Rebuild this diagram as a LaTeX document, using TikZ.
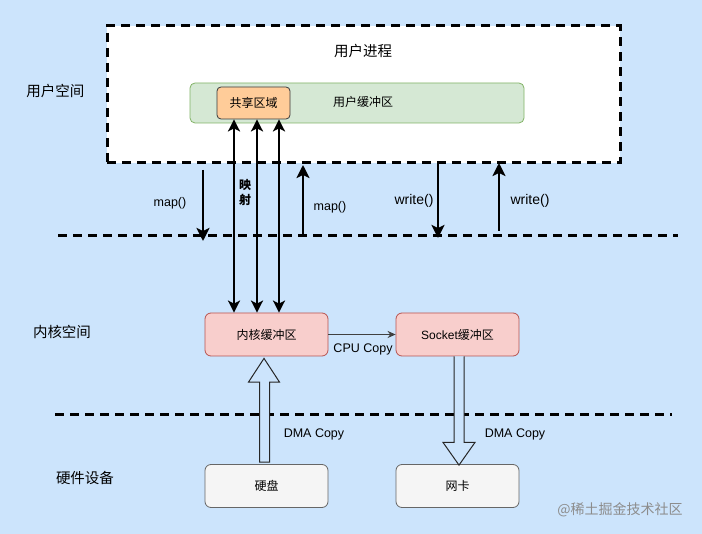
\documentclass[tikz,border=0pt]{standalone}
\usepackage{fontspec}
\setmainfont{Liberation Sans}
\newfontfamily\cjk{Noto Sans CJK SC}
\usetikzlibrary{arrows.meta,calc}
\definecolor{bg}{RGB}{204,228,252}
\definecolor{gfill}{RGB}{213,232,212}
\definecolor{gline}{RGB}{130,179,102}
\definecolor{ofill}{RGB}{255,204,153}
\definecolor{oline}{RGB}{54,57,61}
\definecolor{rfill}{RGB}{248,206,204}
\definecolor{rline}{RGB}{184,84,80}
\definecolor{wfill}{RGB}{245,245,245}
\definecolor{wline}{RGB}{102,102,102}
\tikzset{
  txt/.style={font=\fontsize{12.5}{14}\selectfont, inner sep=0pt},
  bigtxt/.style={font=\fontsize{14}{16}\selectfont, inner sep=0pt},
  ctxt/.style={font=\cjk\fontsize{12}{14}\selectfont, inner sep=0pt},
  sidetxt/.style={font=\cjk\fontsize{14.5}{16}\selectfont, inner sep=0pt},
  bufbox/.style={draw, rounded corners=6pt, minimum width=123pt, minimum height=43pt, line width=0.8pt, font=\cjk\fontsize{12}{14}\selectfont},
  dashline/.style={line width=3pt, dash pattern=on 9pt off 6pt},
  tip/.style={},
  arr/.style={line width=2.5pt, -{Stealth[length=13pt,width=13pt,inset=3pt]}},
  darr/.style={line width=2.3pt, {Stealth[length=12pt,width=12pt,inset=3pt]}-{Stealth[length=12pt,width=12pt,inset=3pt]}},
  hollow/.style={draw=black!85, fill=bg, line width=1pt, line join=miter}
}
\begin{document}
\begin{tikzpicture}[x=1pt,y=-1pt]
\useasboundingbox[fill=bg] (0,0) rectangle (702,534);

% user process box
\node[draw, fill=white, dashline, minimum width=513pt, minimum height=137pt, inner sep=0pt] (proc) at (363.5,94.5) {};
\node[sidetxt] (proctitle) at (363,51) {用户进程};
\node[draw=gline, fill=gfill, rounded corners=5pt, line width=0.8pt, minimum width=334pt, minimum height=40pt, inner sep=0pt] (ubuf) at (357,103) {};
\node[ctxt] (ubuflabel) at (363,102) {用户缓冲区};
\node[bufbox, draw=oline, fill=ofill, minimum width=73pt, minimum height=32pt, rounded corners=4pt, inner sep=0pt] (share) at (253.5,103) {共享区域};

% side labels
\node[sidetxt] (lu) at (55.5,91) {用户空间};
\node[sidetxt] (lk) at (62,332) {内核空间};
\node[sidetxt] (lh) at (85,478) {硬件设备};

% dashed separators
\coordinate (d1a) at (58,236);
\coordinate (d1b) at (678,236);
\coordinate (d2a) at (55,415);
\coordinate (d2b) at (672,415);
\draw[dashline] (d1a) -- (d1b);
\draw[dashline] (d2a) -- (d2b);

% kernel boxes
\node[bufbox, draw=rline, fill=rfill] (kernel) at (266.5,334.5) {内核缓冲区};
\node[bufbox, draw=rline, fill=rfill] (socket) at (457.5,334.5) {{\fontspec{Liberation Sans}Socket}缓冲区};
\node[bufbox, draw=wline, fill=wfill] (disk) at (266.5,486) {硬盘};
\node[bufbox, draw=wline, fill=wfill] (nic) at (457.5,486) {网卡};

% CPU copy
\draw[line width=1.3pt, draw=black!75, -{Stealth[length=8pt,width=7pt]}] (kernel.east) -- (socket.west);
\node[txt] (cpu) at (363,349) {CPU Copy};

% mapping arrows
\coordinate (m1) at (234,0);
\coordinate (m2) at (257,0);
\coordinate (m3) at (279,0);
\draw[darr] (m1 |- share.south) -- (m1 |- kernel.north);
\draw[darr] (m2 |- share.south) -- (m2 |- kernel.north);
\draw[darr] (m3 |- share.south) -- (m3 |- kernel.north);
\node[font=\cjk\bfseries\fontsize{12}{15}\selectfont, align=center, inner sep=0pt] (ying) at (245,193) {映\\射};

% map() arrows
\coordinate (ma1) at (203,170);
\coordinate (ma2) at (203,241);
\draw[arr] (ma1) -- (ma2);
\node[txt] (map1) at (170,203) {map()};
\coordinate (mb1) at (303,234);
\coordinate (mb2) at (303,165);
\draw[arr] (mb1) -- (mb2);
\node[txt] (map2) at (330,207) {map()};

% write() arrows
\coordinate (wa1) at (438,163);
\coordinate (wa2) at (438,238);
\draw[arr] (wa1) -- (wa2);
\node[bigtxt] (w1) at (414,201) {write()};
\coordinate (wb1) at (499,231);
\coordinate (wb2) at (499,163);
\draw[arr] (wb1) -- (wb2);
\node[bigtxt] (w2) at (530,201) {write()};

% DMA hollow arrows
\draw[hollow] ($(disk.north)+(-7,-2)$) -- ($(disk.north)+(-7,-82)$) -- ($(disk.north)+(-18,-82)$)
  -- ($(kernel.south)+(-2.5,2)$) -- ($(disk.north)+(13,-82)$) -- ($(disk.north)+(3,-82)$) -- ($(disk.north)+(3,-2)$) -- cycle;
\node[txt] (dma1) at (314,434) {DMA Copy};
\draw[hollow] ($(socket.south)+(-3.5,0)$) -- ($(socket.south)+(-3.5,86)$) -- ($(socket.south)+(-14.5,86)$)
  -- ($(nic.north)+(1.5,1)$) -- ($(socket.south)+(17.5,86)$) -- ($(socket.south)+(6.5,86)$) -- ($(socket.south)+(6.5,0)$);
\node[txt] (dma2) at (515,434) {DMA Copy};

% watermark
\node[font=\cjk\fontsize{14}{16}\selectfont, text=black!45, inner sep=0pt] (wm) at (620,510) {@稀土掘金技术社区};
\end{tikzpicture}
\end{document}
